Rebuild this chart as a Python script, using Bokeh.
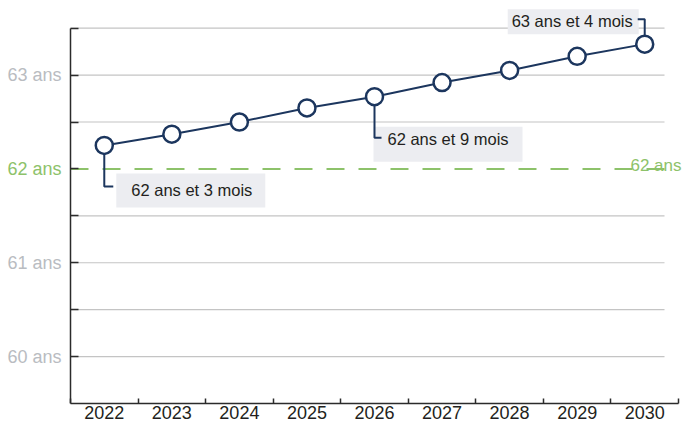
from bokeh.plotting import figure
from bokeh.models import Range1d, FixedTicker
from bokeh.core.properties import value
from bokeh.embed import file_html
from bokeh.resources import INLINE

# ---------------- data ----------------
years = [2022, 2023, 2024, 2025, 2026, 2027, 2028, 2029, 2030]
ages = [62.25, 62.37, 62.5, 62.65, 62.77, 62.92, 63.05, 63.2, 63.33]
y_ticks = [60, 61, 62, 63]
y_tick_labels = ["60 ans", "61 ans", "62 ans", "63 ans"]
reference_age = 62
reference_label = "62 ans"
callout_years = [2022, 2026, 2030]
callout_texts = ["62 ans et 3 mois", "62 ans et 9 mois", "63 ans et 4 mois"]

# ---------------- style ----------------
FONT = "Liberation Sans"
NAVY = "#1c365e"
GREEN = "#8dc26a"
GRAY_LBL = "#b9bcc1"
GRID = "#c4c4c4"
BOX = "#ecedf1"
AXIS = "#2b2b2b"
TXT = "#231f20"

W, H = 682, 427
SX = 608 / 9.0      # px per year
SY = 93.9           # px per year of age
X0, Y0 = 2021.5, 59.5
X_START = X0 - 70 / SX
X_END = X0 + (W - 70) / SX
Y_END = 63.5 + 27.7 / SY

p = figure(width=W, height=H, output_backend="svg", toolbar_location=None,
           x_range=Range1d(X_START, X_END), y_range=Range1d(Y0, Y_END),
           min_border_left=0, min_border_right=0, min_border_top=0,
           min_border_bottom=24)
p.outline_line_color = None
p.xgrid.visible = False
p.ygrid.visible = False
p.background_fill_color = "white"

# x axis
xa = p.xaxis[0]
xa.bounds = (X0, X0 + 9)
xa.ticker = FixedTicker(ticks=years, minor_ticks=[y + 0.5 for y in [years[0] - 1] + years])
xa.major_tick_in = 0
xa.major_tick_out = 0
xa.minor_tick_in = 5
xa.minor_tick_out = 0
xa.minor_tick_line_color = AXIS
xa.minor_tick_line_width = 1.5
xa.axis_line_color = AXIS
xa.axis_line_width = 1.5
xa.major_label_text_font = FONT
xa.major_label_text_font_size = "18px"
xa.major_label_text_color = TXT
xa.major_label_standoff = 2

# y axis, drawn at the left end of the x axis
ya = p.yaxis[0]
ya.fixed_location = X0
ya.bounds = (Y0, Y0 + 4)
ya.ticker = FixedTicker(ticks=y_ticks, minor_ticks=[t + 0.5 for t in y_ticks])
ya.major_tick_in = 8
ya.major_tick_out = 0
ya.minor_tick_in = 8
ya.minor_tick_out = 0
ya.major_tick_line_color = AXIS
ya.minor_tick_line_color = AXIS
ya.major_tick_line_width = 1.5
ya.minor_tick_line_width = 1.5
ya.axis_line_color = AXIS
ya.axis_line_width = 1.5
ya.major_label_standoff = 0
ya.major_label_overrides = {t: "" for t in y_ticks}

# y tick labels (coloured individually)
p.text(x=[X0 - 9 / SX] * len(y_ticks), y=y_ticks, text=y_tick_labels,
       text_color=[GREEN if t == reference_age else GRAY_LBL for t in y_ticks],
       text_font=value(FONT), text_font_size="18px",
       text_align="right", text_baseline="middle")

# gridlines (half years), except reference
grid_end = X0 + 9 - 14 / SX
grid_levels = [t for t in [y + d for y in y_ticks for d in (0, 0.5)] if t != reference_age]
p.segment(x0=[X0] * len(grid_levels), x1=[grid_end] * len(grid_levels),
          y0=grid_levels, y1=grid_levels, line_color=GRID, line_width=1.2)

# reference dashed line
p.segment(x0=[X0], x1=[grid_end], y0=[reference_age], y1=[reference_age],
          line_color=GREEN, line_width=2, line_dash="18 14")
p.text(x=[X0 + 611 / SX], y=[reference_age + 3 / SY], text=[reference_label],
       text_font=value(FONT), text_font_size="17px", text_color=GREEN,
       text_align="right", text_baseline="alphabetic")

# callouts
box_l = [12, -1, -137]
box_r = [161, 148, -6]
box_t = [-28, -30, 35]
box_b = [-62, -65, 10]
con_dy = [-41, -41, 25]
con_dx = [9, 7, -7]
txt_dx = [27, 13, -12]
txt_dy = [-45, -42, 23]
txt_al = ["left", "left", "right"]

for i, (yr, t) in enumerate(zip(callout_years, callout_texts)):
    v = ages[years.index(yr)]
    p.quad(left=[yr + box_l[i] / SX], right=[yr + box_r[i] / SX],
           top=[v + box_t[i] / SY], bottom=[v + box_b[i] / SY],
           fill_color=BOX, line_color=None)
    yy = v + con_dy[i] / SY
    p.line(x=[yr, yr, yr + con_dx[i] / SX], y=[v, yy, yy],
           line_color=NAVY, line_width=2)
    p.text(x=[yr + txt_dx[i] / SX], y=[v + txt_dy[i] / SY], text=[t],
           text_font=value(FONT), text_font_size="16.5px", text_color=TXT,
           text_align=txt_al[i], text_baseline="middle")

# series
p.line(x=years, y=ages, line_color=NAVY, line_width=2)
p.scatter(x=years, y=ages, size=17, fill_color="white", line_color=NAVY, line_width=2.5)

open("out.html", "w").write(file_html(p, INLINE))
